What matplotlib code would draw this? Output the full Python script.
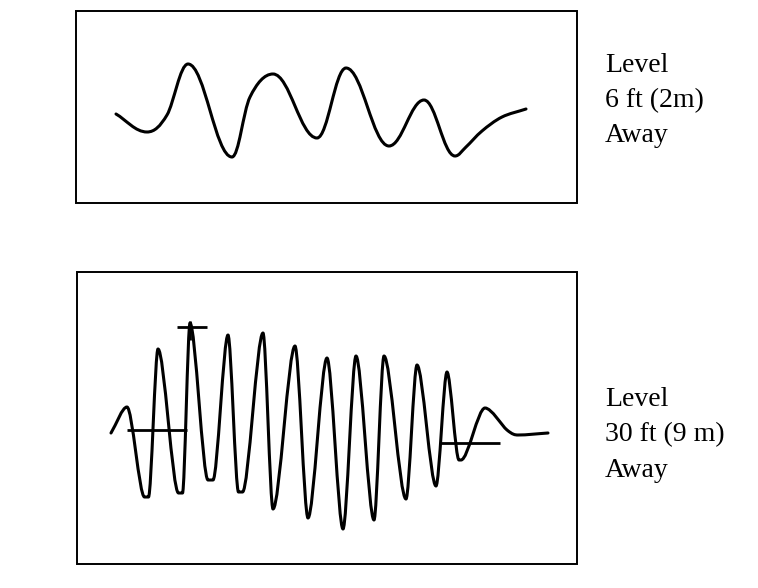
import numpy as np
import matplotlib.pyplot as plt
from matplotlib.path import Path
from matplotlib.patches import PathPatch, Rectangle

# Waveforms, in pixel coords (x right, y down)
wave1_x = [116, 147, 167, 188, 232, 250, 273, 317, 346, 389, 424, 455,
           466, 482, 502, 526]
wave1_y = [114, 132, 115, 64, 157, 97, 74, 138, 68, 146, 100, 156,
           147, 131, 117, 109]

wave2_x = [111, 127, 144.5, 148.5, 158, 178.5, 182.5, 190, 208, 213, 228,
           238.5, 242.5, 263, 273, 295, 308, 327, 343, 356, 374, 384, 406,
           417, 436, 447, 459, 461, 485, 507, 518, 548]
wave2_y = [433, 407, 497, 497, 349, 493, 493, 323, 480, 480, 335,
           492, 492, 333, 509, 346, 518, 358, 529, 356, 520, 356, 499,
           365, 486, 372, 460, 460, 408, 430, 435, 433]

# Marker lines on the lower trace
hline_x0 = [127, 441, 177]
hline_x1 = [187, 500, 207]
hline_y = [430, 443, 327]

labels_top = ['Level', '6 ft (2m)', 'Away']
labels_bottom = ['Level', '30 ft (9 m)', 'Away']


def smooth_path(xs, ys, k=1 / 3):
    # cubic segments; turning points get flat tangents, others Catmull-Rom
    p = np.column_stack([xs, ys]).astype(float)
    n = len(p)

    def flat(i):
        return (p[i, 1] - p[i - 1, 1]) * (p[i + 1, 1] - p[i, 1]) <= 0

    verts = [p[0]]
    codes = [Path.MOVETO]
    for i in range(n - 1):
        dx = p[i + 1, 0] - p[i, 0]
        if i == 0:
            c1 = p[0] + (p[1] - p[0]) / 3
        elif flat(i):
            c1 = p[i] + [k * dx, 0]
        else:
            c1 = p[i] + (p[i + 1] - p[i - 1]) / 6
        if i + 1 == n - 1:
            c2 = p[-1] - (p[-1] - p[-2]) / 3
        elif flat(i + 1):
            c2 = p[i + 1] - [k * dx, 0]
        else:
            c2 = p[i + 1] - (p[i + 2] - p[i]) / 6
        verts += [c1, c2, p[i + 1]]
        codes += [Path.CURVE4] * 3
    return Path(verts, codes)


plt.rcParams['font.family'] = ['Liberation Serif', 'DejaVu Serif']

fig = plt.figure(figsize=(7.58, 5.88), dpi=100)
ax = fig.add_axes([0, 0, 1, 1])
ax.set_xlim(0, 758)
ax.set_ylim(588, 0)
ax.axis('off')

# frames
ax.add_patch(Rectangle((76, 11), 501, 192, fill=False, lw=1.4, ec='black'))
ax.add_patch(Rectangle((77, 272), 500, 292, fill=False, lw=1.4, ec='black'))

ax.add_patch(PathPatch(smooth_path(wave1_x, wave1_y, 0.38), fill=False, lw=2.2,
                       ec='black', capstyle='round', joinstyle='round'))
ax.add_patch(PathPatch(smooth_path(wave2_x, wave2_y, 0.3), fill=False, lw=2.2,
                       ec='black', capstyle='round', joinstyle='round'))

ax.hlines(hline_y, hline_x0, hline_x1, colors='black', lw=2.0)
ax.vlines(190, 321, 340, colors='black', lw=2.0)

for i, s in enumerate(labels_top):
    ax.text(605, 72 + 35 * i, s, fontsize=20, va='baseline', ha='left')
for i, s in enumerate(labels_bottom):
    ax.text(605, 406 + 35.5 * i, s, fontsize=20, va='baseline', ha='left')

plt.savefig('out.png', dpi=100)
